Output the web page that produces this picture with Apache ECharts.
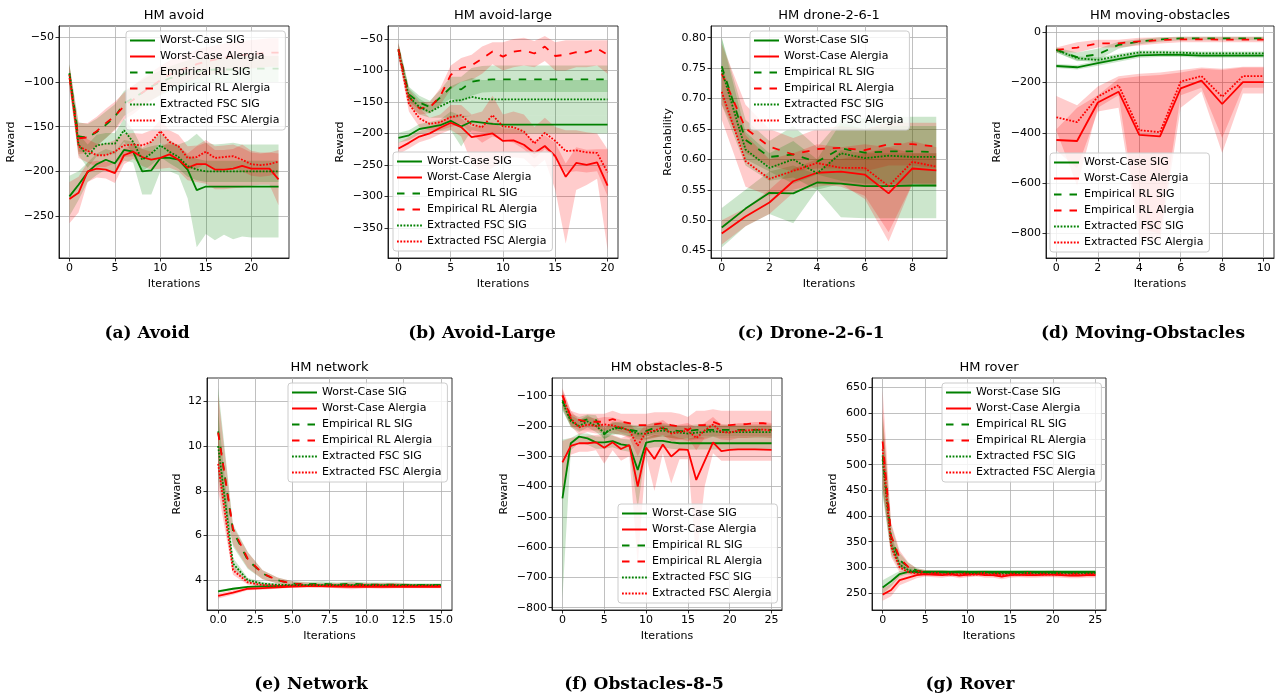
<!DOCTYPE html>
<html><head><meta charset="utf-8">
<script src="https://cdn.jsdelivr.net/npm/echarts@6/dist/echarts.min.js"></script>
<style>html,body{margin:0;padding:0;background:#fff;}#c{width:1281px;height:696px;}</style>
</head><body><div id="c"></div>
<script>
// ---------- series names ----------
const NAMES = ['Worst-Case SIG','Worst-Case Alergia','Empirical RL SIG','Empirical RL Alergia','Extracted FSC SIG','Extracted FSC Alergia'];

// ---------- (a) HM avoid ----------
const aXTicks = [0,5,10,15,20];
const aYTicks = [-250,-200,-150,-100,-50];
const aWcSig = [-228,-215,-201,-192,-187,-191,-176,-178,-200,-199,-185,-185,-187,-198,-221,-217,-217,-217,-217,-217,-217,-217,-217,-217];
const aWcSigLo = [-250,-232,-212,-204,-198,-203,-188,-190,-226,-226,-200,-200,-204,-230,-285,-270,-277,-271,-276,-273,-274,-274,-274,-274];
const aWcSigHi = [-205,-200,-190,-180,-175,-178,-165,-167,-175,-172,-170,-170,-170,-166,-158,-168,-170,-169,-168,-170,-170,-170,-170,-170];
const aWcAlg = [-231,-224,-200,-197,-198,-202,-182,-178,-184,-187,-185,-181,-187,-196,-192,-192,-198,-198,-197,-194,-197,-197,-197,-209];
const aWcAlgLo = [-258,-246,-212,-207,-208,-213,-192,-186,-194,-198,-197,-196,-200,-210,-212,-214,-220,-220,-219,-218,-216,-215,-215,-238];
const aWcAlgHi = [-212,-206,-190,-188,-189,-192,-174,-171,-175,-178,-174,-167,-172,-180,-172,-168,-176,-176,-175,-170,-177,-179,-179,-180];
const aRlSig = [-91,-161,-162,-156,-148,-139,-124,-118,-112,-105,-100,-96,-93,-90,-88,-87,-86,-86,-86,-85,-85,-85,-85,-85];
const aRlSigLo = [-104,-178,-178,-171,-163,-153,-138,-132,-126,-120,-115,-111,-108,-105,-103,-102,-101,-101,-101,-100,-100,-100,-100,-100];
const aRlSigHi = [-80,-145,-147,-141,-133,-125,-110,-104,-98,-92,-87,-83,-79,-76,-74,-73,-72,-72,-72,-71,-71,-71,-71,-71];
const aRlAlg = [-95,-163,-162,-155,-146,-138,-127,-120,-112,-105,-98,-92,-87,-84,-80,-77,-75,-73,-71,-70,-69,-68,-67,-67];
const aRlAlgLo = [-108,-181,-179,-172,-163,-154,-142,-136,-128,-121,-114,-108,-103,-100,-96,-93,-91,-89,-87,-86,-85,-84,-83,-83];
const aRlAlgHi = [-82,-146,-146,-139,-130,-122,-112,-104,-96,-89,-82,-76,-71,-68,-64,-61,-59,-57,-55,-54,-53,-52,-51,-51];
const aFscSig = [-90,-170,-183,-171,-169,-169,-154,-167,-187,-180,-171,-178,-184,-194,-198,-200,-200,-200,-200,-200,-200,-200,-200,-200];
const aFscSigLo = [-102,-182,-196,-183,-181,-181,-167,-180,-200,-193,-184,-191,-197,-206,-210,-212,-212,-212,-212,-212,-212,-212,-212,-212];
const aFscSigHi = [-80,-158,-170,-159,-157,-157,-141,-154,-174,-167,-158,-165,-171,-182,-186,-188,-188,-188,-188,-188,-188,-188,-188,-188];
const aFscAlg = [-92,-172,-177,-182,-182,-178,-171,-170,-171,-167,-155,-167,-172,-185,-184,-178,-185,-184,-183,-187,-192,-193,-192,-189];
const aFscAlgLo = [-104,-185,-190,-195,-195,-191,-184,-183,-184,-180,-168,-180,-185,-198,-197,-191,-198,-197,-196,-200,-205,-206,-205,-202];
const aFscAlgHi = [-80,-159,-164,-169,-169,-165,-158,-157,-158,-154,-142,-154,-159,-172,-171,-165,-172,-171,-170,-174,-179,-180,-179,-176];

// ---------- (b) HM avoid-large ----------
const bXTicks = [0,5,10,15,20];
const bYTicks = [-350,-300,-250,-200,-150,-100,-50];
const bWcSig = [-207,-203,-193,-190,-187,-180,-189,-181,-183,-185,-186,-186,-186,-186,-186,-186,-186,-186,-186,-186,-186];
const bWcSigLo = [-215,-211,-201,-198,-196,-195,-221,-195,-198,-200,-200,-200,-200,-200,-200,-200,-200,-200,-200,-200,-200];
const bWcSigHi = [-199,-195,-185,-182,-178,-165,-172,-172,-172,-172,-172,-172,-172,-172,-172,-172,-172,-172,-172,-172,-172];
const bWcAlg = [-224,-215,-205,-200,-191,-183,-190,-206,-203,-200,-212,-211,-218,-231,-220,-236,-269,-247,-250,-246,-283];
const bWcAlgLo = [-233,-224,-214,-209,-201,-194,-205,-248,-262,-255,-242,-238,-240,-255,-242,-290,-375,-290,-282,-272,-385];
const bWcAlgHi = [-215,-206,-196,-191,-181,-172,-176,-190,-188,-182,-192,-192,-198,-212,-203,-215,-248,-222,-226,-225,-225];
const bRlSig = [-66,-138,-151,-158,-143,-127,-130,-118,-115,-114,-114,-114,-114,-114,-114,-114,-114,-114,-114,-114,-114];
const bRlSigLo = [-76,-150,-162,-168,-155,-145,-150,-140,-135,-134,-134,-134,-134,-134,-134,-134,-134,-134,-134,-134,-134];
const bRlSigHi = [-56,-126,-140,-148,-131,-110,-110,-96,-93,-92,-92,-92,-92,-92,-92,-92,-92,-92,-92,-92,-92];
const bRlAlg = [-66,-142,-160,-159,-141,-107,-96,-92,-81,-70,-78,-70,-68,-73,-62,-77,-75,-71,-71,-65,-75];
const bRlAlgLo = [-76,-155,-170,-168,-155,-130,-118,-115,-105,-90,-100,-95,-92,-95,-85,-100,-100,-95,-95,-92,-105];
const bRlAlgHi = [-56,-130,-150,-150,-128,-92,-80,-75,-62,-55,-55,-50,-48,-53,-45,-55,-52,-52,-52,-52,-52];
const bFscSig = [-68,-142,-158,-166,-157,-149,-147,-142,-145,-146,-146,-146,-146,-146,-146,-146,-146,-146,-146,-146,-146];
const bFscSigLo = [-78,-155,-170,-175,-175,-175,-175,-172,-172,-172,-172,-172,-172,-172,-172,-172,-172,-172,-172,-172,-172];
const bFscSigHi = [-58,-128,-145,-155,-140,-125,-118,-112,-115,-115,-115,-115,-115,-115,-115,-115,-115,-115,-115,-115,-115];
const bFscAlg = [-68,-153,-176,-185,-182,-174,-171,-186,-190,-171,-189,-190,-197,-216,-199,-212,-228,-227,-230,-231,-262];
const bFscAlgLo = [-80,-165,-190,-195,-195,-190,-185,-200,-215,-205,-210,-215,-225,-240,-225,-240,-262,-260,-262,-260,-300];
const bFscAlgHi = [-58,-140,-160,-175,-170,-155,-155,-170,-165,-140,-170,-165,-170,-190,-175,-190,-195,-195,-198,-200,-225];

// ---------- (c) HM drone-2-6-1 ----------
const cXTicks = [0,2,4,6,8];
const cYTicks = [0.45,0.50,0.55,0.60,0.65,0.70,0.75,0.80];
const cWcSig = [0.488,0.519,0.545,0.544,0.562,0.560,0.556,0.556,0.557,0.557];
const cWcSigLo = [0.455,0.490,0.510,0.495,0.550,0.505,0.503,0.503,0.503,0.503];
const cWcSigHi = [0.520,0.550,0.580,0.590,0.575,0.615,0.610,0.610,0.610,0.610];
const cWcAlg = [0.478,0.506,0.529,0.564,0.578,0.580,0.575,0.544,0.585,0.582];
const cWcAlgLo = [0.460,0.490,0.510,0.545,0.555,0.560,0.535,0.465,0.560,0.560];
const cWcAlgHi = [0.500,0.520,0.550,0.585,0.600,0.600,0.610,0.620,0.610,0.610];
const cRlSig = [0.753,0.632,0.604,0.608,0.596,0.618,0.611,0.613,0.613,0.612];
const cRlSigLo = [0.700,0.600,0.580,0.560,0.575,0.565,0.560,0.560,0.560,0.560];
const cRlSigHi = [0.800,0.665,0.630,0.655,0.620,0.665,0.668,0.670,0.670,0.670];
const cRlAlg = [0.741,0.651,0.621,0.608,0.617,0.619,0.615,0.625,0.625,0.621];
const cRlAlgLo = [0.690,0.610,0.590,0.580,0.585,0.585,0.580,0.590,0.590,0.585];
const cRlAlgHi = [0.790,0.690,0.650,0.635,0.650,0.655,0.650,0.660,0.660,0.660];
const cFscSig = [0.747,0.616,0.586,0.600,0.577,0.610,0.602,0.606,0.604,0.604];
const cFscSigLo = [0.690,0.590,0.565,0.570,0.550,0.560,0.555,0.555,0.555,0.555];
const cFscSigHi = [0.800,0.645,0.610,0.630,0.600,0.660,0.650,0.655,0.655,0.655];
const cFscAlg = [0.711,0.597,0.568,0.581,0.594,0.586,0.586,0.556,0.596,0.588];
const cFscAlgLo = [0.665,0.555,0.540,0.550,0.560,0.555,0.540,0.480,0.560,0.555];
const cFscAlgHi = [0.755,0.640,0.600,0.610,0.625,0.620,0.625,0.620,0.630,0.620];

// ---------- (d) HM moving-obstacles ----------
const dXTicks = [0,2,4,6,8,10];
const dYTicks = [-800,-600,-400,-200,0];
const dWcSig = [-134,-139,-123,-107,-92,-90,-90,-93,-93,-93,-93];
const dWcSigLo = [-142,-148,-133,-117,-101,-98,-98,-101,-101,-101,-101];
const dWcSigHi = [-126,-130,-113,-97,-83,-82,-82,-85,-85,-85,-85];
const dWcAlg = [-428,-432,-279,-236,-408,-414,-223,-192,-285,-198,-198];
const dWcAlgLo = [-470,-540,-315,-300,-820,-830,-300,-235,-480,-243,-243];
const dWcAlgHi = [-385,-300,-250,-185,-175,-170,-160,-145,-150,-140,-140];
const dRlSig = [-70,-99,-88,-50,-37,-28,-24,-24,-24,-24,-24];
const dRlSigLo = [-80,-115,-110,-65,-48,-38,-32,-32,-32,-32,-32];
const dRlSigHi = [-60,-80,-65,-38,-28,-20,-18,-18,-18,-18,-18];
const dRlAlg = [-70,-61,-44,-44,-36,-31,-28,-28,-29,-29,-29];
const dRlAlgLo = [-80,-80,-60,-60,-52,-45,-40,-40,-40,-40,-40];
const dRlAlgHi = [-60,-40,-30,-30,-22,-20,-18,-18,-18,-18,-18];
const dFscSig = [-70,-103,-110,-94,-80,-80,-81,-84,-84,-84,-84];
const dFscSigLo = [-80,-112,-120,-104,-88,-88,-90,-92,-92,-92,-92];
const dFscSigHi = [-62,-95,-100,-85,-72,-72,-73,-76,-76,-76,-76];
const dFscAlg = [-338,-357,-256,-210,-389,-397,-196,-174,-256,-174,-174];
const dFscAlgLo = [-390,-610,-300,-250,-780,-800,-250,-220,-420,-220,-220];
const dFscAlgHi = [-253,-290,-215,-175,-165,-160,-150,-140,-145,-137,-137];

// ---------- (e) HM network ----------
const eXTicks = [0,2.5,5,7.5,10,12.5,15];
const eYTicks = [4,6,8,10,12];
const eWcSig = [3.50,3.62,3.70,3.73,3.74,3.75,3.76,3.76,3.76,3.76,3.76,3.76,3.76,3.76,3.76,3.76];
const eWcSigLo = [3.44,3.57,3.65,3.68,3.69,3.70,3.71,3.71,3.71,3.71,3.71,3.71,3.71,3.71,3.71,3.71];
const eWcSigHi = [3.56,3.67,3.75,3.78,3.79,3.80,3.81,3.81,3.81,3.81,3.81,3.81,3.81,3.81,3.81,3.81];
const eWcAlg = [3.30,3.45,3.62,3.65,3.68,3.72,3.74,3.74,3.72,3.70,3.72,3.70,3.70,3.70,3.70,3.70];
const eWcAlgLo = [3.18,3.35,3.55,3.58,3.62,3.66,3.68,3.68,3.64,3.60,3.64,3.62,3.64,3.64,3.64,3.64];
const eWcAlgHi = [3.42,3.55,3.69,3.72,3.74,3.78,3.80,3.80,3.80,3.80,3.80,3.78,3.76,3.76,3.76,3.76];
const eRlSig = [10.65,6.20,4.90,4.30,4.00,3.85,3.82,3.85,3.80,3.85,3.80,3.80,3.80,3.78,3.78,3.78];
const eRlSigLo = [8.80,5.50,4.50,4.05,3.85,3.75,3.72,3.75,3.70,3.75,3.70,3.70,3.70,3.70,3.70,3.70];
const eRlSigHi = [12.60,6.50,5.25,4.45,4.12,3.95,3.92,3.95,3.90,3.95,3.90,3.90,3.90,3.86,3.86,3.86];
const eRlAlg = [10.60,6.30,4.95,4.30,4.00,3.85,3.80,3.78,3.78,3.80,3.78,3.78,3.78,3.75,3.75,3.75];
const eRlAlgLo = [8.90,5.60,4.55,4.05,3.85,3.75,3.70,3.68,3.68,3.70,3.68,3.68,3.68,3.67,3.67,3.67];
const eRlAlgHi = [12.30,6.40,5.25,4.45,4.12,3.95,3.90,3.88,3.88,3.90,3.88,3.88,3.88,3.83,3.83,3.83];
const eFscSig = [10.00,4.75,4.00,3.85,3.80,3.78,3.78,3.78,3.78,3.78,3.78,3.78,3.78,3.78,3.78,3.78];
const eFscSigLo = [8.50,4.50,3.90,3.78,3.74,3.72,3.72,3.72,3.72,3.72,3.72,3.72,3.72,3.72,3.72,3.72];
const eFscSigHi = [11.50,5.00,4.10,3.92,3.86,3.84,3.84,3.84,3.84,3.84,3.84,3.84,3.84,3.84,3.84,3.84];
const eFscAlg = [9.20,4.45,3.90,3.78,3.75,3.75,3.75,3.75,3.75,3.75,3.75,3.75,3.75,3.75,3.75,3.75];
const eFscAlgLo = [8.00,4.25,3.80,3.70,3.68,3.68,3.68,3.68,3.68,3.68,3.68,3.68,3.68,3.68,3.68,3.68];
const eFscAlgHi = [10.50,4.65,4.00,3.86,3.82,3.82,3.82,3.82,3.82,3.82,3.82,3.82,3.82,3.82,3.82,3.82];

// ---------- (f) HM obstacles-8-5 ----------
const fXTicks = [0,5,10,15,20,25];
const fYTicks = [-800,-700,-600,-500,-400,-300,-200,-100];
const fWcSig = [-439,-257,-235,-241,-254,-254,-250,-261,-265,-345,-255,-249,-249,-254,-257,-257,-257,-257,-257,-257,-257,-257,-257,-257,-257,-257];
const fWcSigLo = [-770,-280,-255,-262,-275,-275,-270,-280,-285,-470,-275,-270,-270,-275,-278,-278,-278,-278,-278,-278,-278,-278,-278,-278,-278,-278];
const fWcSigHi = [-245,-240,-225,-225,-235,-235,-232,-242,-245,-230,-238,-230,-230,-235,-238,-238,-238,-238,-238,-238,-238,-238,-238,-238,-238,-238];
const fWcAlg = [-320,-266,-257,-257,-254,-272,-254,-276,-263,-400,-271,-309,-261,-301,-277,-279,-378,-316,-254,-283,-279,-277,-277,-277,-278,-279];
const fWcAlgLo = [-420,-295,-285,-285,-280,-325,-280,-315,-300,-660,-300,-415,-290,-390,-310,-310,-645,-400,-290,-315,-315,-315,-315,-315,-315,-315];
const fWcAlgHi = [-250,-240,-235,-232,-230,-225,-230,-240,-230,-220,-240,-230,-235,-230,-240,-245,-230,-240,-220,-245,-245,-245,-245,-245,-245,-245];
const fRlSig = [-115,-180,-186,-178,-180,-228,-202,-208,-213,-217,-217,-206,-208,-213,-217,-217,-213,-213,-213,-213,-213,-213,-213,-213,-213,-213];
const fRlSigLo = [-150,-200,-205,-200,-200,-245,-225,-230,-235,-235,-235,-228,-230,-235,-238,-238,-235,-235,-235,-235,-235,-235,-235,-235,-235,-235];
const fRlSigHi = [-90,-160,-170,-162,-165,-210,-185,-190,-195,-198,-198,-188,-190,-195,-198,-198,-195,-195,-195,-195,-195,-195,-195,-195,-195,-195];
const fRlAlg = [-98,-169,-180,-186,-186,-186,-177,-186,-191,-197,-197,-195,-191,-197,-202,-213,-197,-197,-186,-197,-197,-195,-194,-191,-191,-194];
const fRlAlgLo = [-140,-200,-215,-215,-215,-215,-210,-220,-225,-230,-235,-235,-235,-240,-245,-250,-245,-245,-235,-245,-245,-245,-245,-245,-245,-245];
const fRlAlgHi = [-75,-150,-160,-160,-160,-160,-150,-160,-160,-160,-160,-155,-155,-155,-160,-170,-150,-150,-145,-150,-150,-150,-150,-150,-150,-150];
const fFscSig = [-120,-185,-200,-185,-200,-222,-210,-205,-215,-225,-225,-218,-215,-220,-222,-225,-222,-220,-218,-220,-220,-220,-220,-220,-220,-220];
const fFscSigLo = [-145,-205,-220,-205,-220,-242,-230,-225,-235,-245,-245,-238,-235,-240,-242,-245,-242,-240,-238,-240,-240,-240,-240,-240,-240,-240];
const fFscSigHi = [-95,-165,-180,-165,-180,-202,-190,-185,-195,-205,-205,-198,-195,-200,-202,-205,-202,-200,-198,-200,-200,-200,-200,-200,-200,-200];
const fFscAlg = [-100,-175,-205,-195,-200,-195,-198,-205,-215,-265,-220,-215,-205,-225,-220,-215,-240,-215,-195,-220,-222,-215,-215,-212,-212,-215];
const fFscAlgLo = [-130,-200,-230,-220,-225,-222,-225,-230,-240,-300,-245,-240,-230,-250,-245,-240,-280,-240,-220,-245,-247,-240,-240,-237,-237,-240];
const fFscAlgHi = [-80,-150,-180,-170,-175,-170,-172,-180,-190,-225,-195,-190,-180,-200,-195,-190,-205,-190,-170,-195,-197,-190,-190,-187,-187,-190];

// ---------- (g) HM rover ----------
const gXTicks = [0,5,10,15,20,25];
const gYTicks = [250,300,350,400,450,500,550,600,650];
const gWcSig = [261,273,287,291,291,291,291,291,291,291,291,291,291,291,291,291,291,291,291,291,291,291,291,291,291,291];
const gWcSigLo = [248,263,282,287,287,287,287,287,287,287,287,287,287,287,287,287,287,287,287,287,287,287,287,287,287,287];
const gWcSigHi = [275,284,293,295,295,295,295,295,295,295,295,295,295,295,295,295,295,295,295,295,295,295,295,295,295,295];
const gWcAlg = [247,256,275,280,285,287,286,285,287,284,286,288,285,285,282,285,286,285,285,286,286,285,284,284,285,285];
const gWcAlgLo = [235,244,265,272,279,282,281,280,282,279,281,283,280,280,277,280,281,280,280,281,281,280,279,279,280,280];
const gWcAlgHi = [259,268,285,288,291,292,291,290,292,289,291,293,290,290,287,290,291,290,290,291,291,290,289,289,290,290];
const gRlSig = [518,358,314,301,294,291,291,291,290,291,290,290,290,290,290,290,290,290,290,290,290,290,290,290,290,290];
const gRlSigLo = [445,333,300,293,289,287,287,287,286,287,286,286,286,286,286,286,286,286,286,286,286,286,286,286,286,286];
const gRlSigHi = [600,383,328,309,299,295,295,295,294,295,294,294,294,294,294,294,294,294,294,294,294,294,294,294,294,294];
const gRlAlg = [545,362,318,301,293,290,289,289,288,289,288,288,289,288,288,288,288,289,288,288,289,288,288,288,288,288];
const gRlAlgLo = [455,337,303,292,288,285,284,284,283,284,283,283,284,283,283,283,283,284,283,283,284,283,283,283,283,283];
const gRlAlgHi = [645,387,333,310,298,295,294,294,293,294,293,293,294,293,293,293,293,294,293,293,294,293,293,293,293,293];
const gFscSig = [510,345,305,295,292,290,290,290,289,290,289,289,289,289,289,289,289,289,289,289,289,289,289,289,289,289];
const gFscSigLo = [440,325,296,290,288,286,286,286,285,286,285,285,285,285,285,285,285,285,285,285,285,285,285,285,285,285];
const gFscSigHi = [585,365,314,300,296,294,294,294,293,294,293,293,293,293,293,293,293,293,293,293,293,293,293,293,293,293];
const gFscAlg = [530,340,300,291,288,287,287,287,286,287,286,286,287,286,285,286,286,286,286,286,286,286,286,286,286,286];
const gFscAlgLo = [455,320,290,286,284,283,283,283,282,283,282,282,283,282,281,282,282,282,282,282,282,282,282,282,282,282];
const gFscAlgHi = [610,360,310,296,292,291,291,291,290,291,290,290,291,290,289,290,290,290,290,290,290,290,290,290,290,290];

// ---------- panel assembly ----------
const PANELS = [
  {title:'HM avoid', caption:'(a) Avoid', yName:'Reward', xT:aXTicks, yT:aYTicks,
   m:[aWcSig,aWcAlg,aRlSig,aRlAlg,aFscSig,aFscAlg], lo:[aWcSigLo,aWcAlgLo,aRlSigLo,aRlAlgLo,aFscSigLo,aFscAlgLo], hi:[aWcSigHi,aWcAlgHi,aRlSigHi,aRlAlgHi,aFscSigHi,aFscAlgHi]},
  {title:'HM avoid-large', caption:'(b) Avoid-Large', yName:'Reward', xT:bXTicks, yT:bYTicks,
   m:[bWcSig,bWcAlg,bRlSig,bRlAlg,bFscSig,bFscAlg], lo:[bWcSigLo,bWcAlgLo,bRlSigLo,bRlAlgLo,bFscSigLo,bFscAlgLo], hi:[bWcSigHi,bWcAlgHi,bRlSigHi,bRlAlgHi,bFscSigHi,bFscAlgHi]},
  {title:'HM drone-2-6-1', caption:'(c) Drone-2-6-1', yName:'Reachability', xT:cXTicks, yT:cYTicks,
   m:[cWcSig,cWcAlg,cRlSig,cRlAlg,cFscSig,cFscAlg], lo:[cWcSigLo,cWcAlgLo,cRlSigLo,cRlAlgLo,cFscSigLo,cFscAlgLo], hi:[cWcSigHi,cWcAlgHi,cRlSigHi,cRlAlgHi,cFscSigHi,cFscAlgHi]},
  {title:'HM moving-obstacles', caption:'(d) Moving-Obstacles', yName:'Reward', xT:dXTicks, yT:dYTicks,
   m:[dWcSig,dWcAlg,dRlSig,dRlAlg,dFscSig,dFscAlg], lo:[dWcSigLo,dWcAlgLo,dRlSigLo,dRlAlgLo,dFscSigLo,dFscAlgLo], hi:[dWcSigHi,dWcAlgHi,dRlSigHi,dRlAlgHi,dFscSigHi,dFscAlgHi]},
  {title:'HM network', caption:'(e) Network', yName:'Reward', xT:eXTicks, yT:eYTicks,
   m:[eWcSig,eWcAlg,eRlSig,eRlAlg,eFscSig,eFscAlg], lo:[eWcSigLo,eWcAlgLo,eRlSigLo,eRlAlgLo,eFscSigLo,eFscAlgLo], hi:[eWcSigHi,eWcAlgHi,eRlSigHi,eRlAlgHi,eFscSigHi,eFscAlgHi]},
  {title:'HM obstacles-8-5', caption:'(f) Obstacles-8-5', yName:'Reward', xT:fXTicks, yT:fYTicks,
   m:[fWcSig,fWcAlg,fRlSig,fRlAlg,fFscSig,fFscAlg], lo:[fWcSigLo,fWcAlgLo,fRlSigLo,fRlAlgLo,fFscSigLo,fFscAlgLo], hi:[fWcSigHi,fWcAlgHi,fRlSigHi,fRlAlgHi,fFscSigHi,fFscAlgHi]},
  {title:'HM rover', caption:'(g) Rover', yName:'Reward', xT:gXTicks, yT:gYTicks,
   m:[gWcSig,gWcAlg,gRlSig,gRlAlg,gFscSig,gFscAlg], lo:[gWcSigLo,gWcAlgLo,gRlSigLo,gRlAlgLo,gFscSigLo,gFscAlgLo], hi:[gWcSigHi,gWcAlgHi,gRlSigHi,gRlAlgHi,gFscSigHi,gFscAlgHi]}
];

// ---------- layout / style (kept apart from data) ----------
const LAYOUT = [
  {grid:[59,26,230,232],  x:[-1.15,24.15], y:[-297,-37.3],   leg:[126,31],  yGap:42, cap:[147,334], xDec:0, yDec:0},
  {grid:[388,26,230,232], x:[-1,21],       y:[-398,-29.3],   leg:[393,152], yGap:42, cap:[482,334], xDec:0, yDec:0},
  {grid:[711,26,236,232], x:[-0.45,9.45],  y:[0.4378,0.8193],leg:[750,31],  yGap:37, cap:[811,334], xDec:0, yDec:2},
  {grid:[1046,26,228,232],x:[-0.5,10.5],   y:[-897,25],      leg:[1050,153],yGap:43, cap:[1143,334],xDec:0, yDec:0},
  {grid:[207,378,245,232],x:[-0.75,15.75], y:[2.67,13.04],   leg:[288,383], yGap:24, cap:[311,685], xDec:1, yDec:0},
  {grid:[552,378,230,232],x:[-1.25,26.25], y:[-807.6,-41.6], leg:[618,504], yGap:42, cap:[644,685], xDec:0, yDec:0},
  {grid:[872,378,234,232],x:[-1.25,26.25], y:[217,668.7],    leg:[942,383], yGap:33, cap:[970,685], xDec:0, yDec:0}
];
const GREEN = '#008000', RED = '#ff0000';
const GREEN_FILL = 'rgba(0,128,0,0.2)', RED_FILL = 'rgba(255,0,0,0.2)';
const LCOL = [GREEN, RED, GREEN, RED, GREEN, RED];
const FCOL = [GREEN_FILL, RED_FILL, GREEN_FILL, RED_FILL, GREEN_FILL, RED_FILL];
const LTYPE = ['solid','solid',[7.5,8],[7.5,8],[1.8,1.5],[1.8,1.5]];
const LWIDTH = 1.8;
const FONT = 'DejaVu Sans';

function fmt(dec) {
  return function (v) { const s = Number(v).toFixed(dec); return s.replace('-', '\u2212'); };
}
function axisCommon(ticks, dec) {
  return {
    axisLine: {show: true, onZero: false, lineStyle: {color: '#000', width: 0.8}},
    axisTick: {show: true, customValues: ticks, length: 3.5, inside: false, lineStyle: {color: '#000', width: 0.8}},
    axisLabel: {customValues: ticks, formatter: fmt(dec), margin: 5, fontSize: 11, color: '#000', fontFamily: FONT},
    splitLine: {show: true, lineStyle: {color: '#b0b0b0', width: 0.8}}
  };
}

const grids = [], xAxes = [], yAxes = [], series = [], titles = [], legends = [], graphics = [];
PANELS.forEach(function (p, i) {
  const L = LAYOUT[i];
  grids.push({left: L.grid[0], top: L.grid[1], width: L.grid[2], height: L.grid[3], show: true,
    borderColor: '#000', borderWidth: 0.8, backgroundColor: 'transparent', containLabel: false});
  xAxes.push(Object.assign({type: 'value', gridIndex: i, min: L.x[0], max: L.x[1],
    name: 'Iterations', nameLocation: 'middle', nameGap: 21,
    nameTextStyle: {fontSize: 11, color: '#000', fontFamily: FONT}}, axisCommon(p.xT, L.xDec)));
  yAxes.push(Object.assign({type: 'value', gridIndex: i, min: L.y[0], max: L.y[1],
    name: p.yName, nameLocation: 'middle', nameGap: L.yGap,
    nameTextStyle: {fontSize: 11, color: '#000', fontFamily: FONT}}, axisCommon(p.yT, L.yDec)));
  titles.push({text: p.title, left: L.grid[0] + L.grid[2] / 2, top: L.grid[1] - 17, textAlign: 'center', padding: 0,
    textStyle: {fontSize: 13, fontWeight: 'normal', color: '#000', fontFamily: FONT}});
  legends.push({orient: 'vertical', left: L.leg[0], top: L.leg[1], data: NAMES.slice(), selectedMode: false,
    itemWidth: 25, itemHeight: 12, itemGap: 3, padding: [3, 6, 3, 3],
    itemStyle: {opacity: 0, color: 'rgba(0,0,0,0)', borderWidth: 0},
    backgroundColor: 'rgba(255,255,255,0.8)', borderColor: '#cccccc', borderWidth: 1, borderRadius: 3,
    textStyle: {fontSize: 11, color: '#000', fontFamily: FONT, lineHeight: 13}});
  graphics.push({type: 'text', x: L.cap[0], y: L.cap[1],
    style: {text: p.caption, x: 0, y: 0, textAlign: 'center', textVerticalAlign: 'middle',
      font: 'bold 17px "DejaVu Serif"', fill: '#000'}});
  // shaded bands
  for (let j = 0; j < 6; j++) {
    const lo = p.lo[j], hi = p.hi[j], fill = FCOL[j];
    series.push({
      type: 'custom', xAxisIndex: i, yAxisIndex: i, silent: true, z: 1, animation: false,
      data: lo.map(function (v, k) { return [k, v, hi[k]]; }),
      encode: {x: 0, y: [1, 2]},
      renderItem: function (params, api) {
        if (params.dataIndexInside !== 0) return null;
        const n = lo.length, top = [], bot = [];
        for (let k = 0; k < n; k++) {
          top.push(api.coord([api.value(0, k), api.value(2, k)]));
          bot.push(api.coord([api.value(0, k), api.value(1, k)]));
        }
        return {type: 'polygon', shape: {points: top.concat(bot.reverse())}, style: {fill: fill, stroke: null}};
      }
    });
  }
  // mean lines
  for (let j = 0; j < 6; j++) {
    series.push({
      type: 'line', name: NAMES[j], xAxisIndex: i, yAxisIndex: i, z: 3, animation: false,
      data: p.m[j].map(function (v, k) { return [k, v]; }),
      symbol: 'none', showSymbol: false,
      lineStyle: {color: LCOL[j], width: LWIDTH, type: LTYPE[j]},
      itemStyle: {color: LCOL[j]}
    });
  }
});

const chart = echarts.init(document.getElementById('c'), null, {renderer: 'canvas'});
chart.setOption({
  backgroundColor: '#fff',
  animation: false,
  title: titles,
  legend: legends,
  grid: grids,
  xAxis: xAxes,
  yAxis: yAxes,
  series: series,
  graphic: graphics
});
</script>
</body></html>
